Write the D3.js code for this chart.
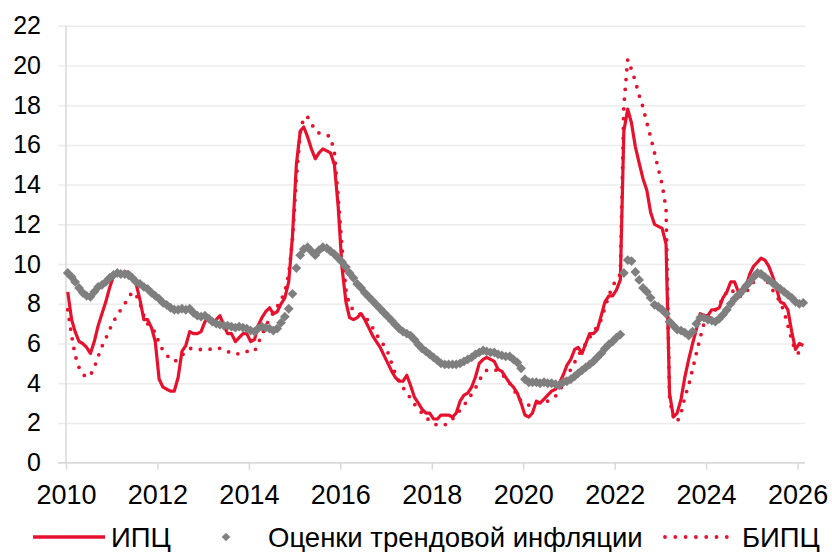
<!DOCTYPE html>
<html>
<head>
<meta charset="utf-8">
<script src="https://cdn.jsdelivr.net/npm/d3@7"></script>
<style>
  body { margin: 0; background: #fff; }
  svg { display: block; font-family: "Liberation Sans", Arial, sans-serif; }
</style>
</head>
<body>
<div class="chartContainer"></div>
<script>
// monthly data, Jan 2010 .. Feb 2026 (one row per year)
const firstMonth = new Date(2010, 0, 15);

const cpi = [
  8.6, 7.2, 6.6, 6.1, 6.0, 5.8, 5.5, 6.1, 6.9, 7.5, 8.1, 8.8,
  9.4, 9.5, 9.5, 9.6, 9.6, 9.4, 9.0, 8.2, 7.2, 7.2, 6.8, 6.1,
  4.2, 3.8, 3.7, 3.6, 3.6, 4.3, 5.6, 5.9, 6.6, 6.5, 6.5, 6.6,
  7.1, 7.3, 7.0, 7.2, 7.4, 6.9, 6.5, 6.5, 6.1, 6.3, 6.5, 6.5,
  6.1, 6.2, 6.9, 7.3, 7.6, 7.8, 7.5, 7.6, 8.0, 8.3, 9.1, 11.4,
  15.0, 16.7, 16.9, 16.4, 15.8, 15.3, 15.6, 15.8, 15.7, 15.6, 15.0, 12.9,
  9.8, 8.1, 7.3, 7.2, 7.3, 7.5, 7.2, 6.8, 6.4, 6.1, 5.8, 5.4,
  5.0, 4.6, 4.3, 4.1, 4.1, 4.4, 3.9, 3.3, 3.0, 2.7, 2.5, 2.5,
  2.2, 2.2, 2.4, 2.4, 2.4, 2.3, 2.5, 3.1, 3.4, 3.5, 3.8, 4.3,
  5.0, 5.2, 5.3, 5.2, 5.1, 4.7, 4.6, 4.3, 4.0, 3.8, 3.5, 3.0,
  2.4, 2.3, 2.5, 3.1, 3.0, 3.2, 3.4, 3.6, 3.7, 4.0, 4.4, 4.9,
  5.2, 5.7, 5.8, 5.5, 6.0, 6.5, 6.5, 6.7, 7.4, 8.1, 8.4, 8.4,
  8.7, 9.2, 16.7, 17.8, 17.1, 15.9, 15.1, 14.3, 13.7, 12.6, 12.0, 11.9,
  11.8, 11.0, 3.5, 2.3, 2.5, 3.2, 4.3, 5.2, 6.0, 6.7, 7.5, 7.4,
  7.4, 7.7, 7.7, 7.8, 8.3, 8.6, 9.1, 9.1, 8.6, 8.5, 8.9, 9.5,
  9.9, 10.1, 10.3, 10.2, 9.9, 9.4, 8.8, 8.1, 8.0, 7.7, 6.6, 5.7,
  6.0, 5.9
];

const coreCpi = [
  7.7, 6.4, 5.4, 4.8, 4.45, 4.3, 4.4, 4.8, 5.35, 5.85, 6.25, 6.7,
  7.1, 7.45, 7.7, 8.0, 8.3, 8.6, 8.45, 8.0, 7.4, 7.0, 6.7, 6.6,
  6.0, 5.65, 5.4, 5.25, 5.1, 5.2, 5.4, 5.6, 5.75, 5.75, 5.7, 5.7,
  5.7, 5.7, 5.75, 5.8, 5.75, 5.7, 5.6, 5.5, 5.45, 5.5, 5.6, 5.6,
  5.6, 5.6, 6.0, 6.45, 6.85, 7.25, 7.55, 7.85, 8.2, 8.6, 9.5, 11.2,
  14.3, 16.6, 17.4, 17.4, 17.1, 16.7, 16.6, 16.55, 16.5, 16.4, 15.6, 13.4,
  10.8, 8.7, 7.9, 7.7, 7.55, 7.45, 7.4, 7.1, 6.8, 6.45, 6.2, 5.9,
  5.55, 5.0, 4.5, 4.1, 3.8, 3.5, 3.25, 2.95, 2.7, 2.5, 2.3, 2.1,
  1.95, 1.9, 1.85, 1.9, 2.05, 2.2, 2.4, 2.65, 2.9, 3.15, 3.45, 3.75,
  4.15, 4.45, 4.65, 4.7, 4.7, 4.6, 4.45, 4.25, 4.0, 3.7, 3.4, 3.1,
  3.0, 2.9, 2.9, 3.0, 3.05, 3.05, 3.1, 3.2, 3.35, 3.6, 3.95, 4.3,
  4.7, 5.05, 5.4, 5.7, 6.0, 6.3, 6.6, 6.85, 7.2, 7.8, 8.4, 8.9,
  9.2, 9.5, 18.0, 20.3, 19.8, 19.2, 18.5, 17.9, 17.1, 16.4, 15.6, 14.8,
  14.0, 12.8, 3.2, 2.3, 2.05, 2.5, 3.3, 3.9, 4.7, 5.5, 6.3, 7.0,
  7.2, 7.5, 7.7, 7.95, 8.3, 8.6, 8.75, 8.55, 8.35, 8.4, 8.55, 8.85,
  9.1, 9.3, 9.4, 9.3, 9.0, 8.7, 8.4, 8.1, 7.6, 6.9, 6.2, 5.6,
  5.5, 5.2
];

const trend = [
  9.55, 9.35, 9.1, 8.8, 8.55, 8.4, 8.35, 8.6, 8.85, 8.95, 9.1, 9.3,
  9.45, 9.55, 9.5, 9.5, 9.45, 9.3, 9.1, 9.0, 8.85, 8.75, 8.55, 8.4,
  8.25, 8.05, 7.95, 7.8, 7.7, 7.7, 7.75, 7.7, 7.75, 7.55, 7.4, 7.35,
  7.4, 7.25, 7.1, 7.0, 6.95, 6.9, 6.9, 6.85, 6.8, 6.85, 6.8, 6.75,
  6.65, 6.6, 6.75, 6.85, 6.8, 6.75, 6.65, 6.75, 7.05, 7.35, 7.75, 8.5,
  9.8, 10.45, 10.75, 10.85, 10.65, 10.45, 10.7, 10.85, 10.8, 10.65, 10.5, 10.3,
  10.1, 9.85, 9.55, 9.3, 9.0, 8.8, 8.55, 8.35, 8.15, 7.95, 7.75, 7.55,
  7.35, 7.15, 6.95, 6.75, 6.6, 6.5, 6.4, 6.2, 5.95, 5.75, 5.6, 5.45,
  5.3, 5.15, 5.0, 4.95, 4.95, 4.95, 4.95, 5.0, 5.1, 5.2, 5.3, 5.45,
  5.55, 5.65, 5.6, 5.55, 5.55, 5.45, 5.4, 5.35, 5.35, 5.2, 5.05, 4.75,
  4.2, 4.05, 4.05, 4.05, 4.0, 4.05, 4.0, 4.0, 3.95, 3.9, 4.05, 4.1,
  4.2, 4.35, 4.5, 4.65, 4.8, 4.95, 5.1, 5.3, 5.5, 5.75, 5.95, 6.1,
  6.3, 6.45, 9.55, 10.2, 10.15, 9.6, 9.2, 8.8, 8.6, 8.3, 7.95, 7.85,
  7.7, 7.5, 7.1, 6.9, 6.7, 6.65, 6.55, 6.4, 6.6, 7.0, 7.3, 7.3,
  7.2, 7.15, 7.1, 7.25, 7.45, 7.7, 8.0, 8.25, 8.45, 8.65, 8.9, 9.1,
  9.35, 9.55, 9.5, 9.35, 9.2, 9.05, 8.9, 8.75, 8.6, 8.45, 8.3, 8.1,
  8.0, 8.05
];

const yearTicks = [2010, 2012, 2014, 2016, 2018, 2020, 2022, 2024, 2026];
const valueTicks = [0, 2, 4, 6, 8, 10, 12, 14, 16, 18, 20, 22];
const seriesNames = ["ИПЦ", "Оценки трендовой инфляции", "БИПЦ"];

const width = 832,
  height = 552;
const red = "#e8112d",
  grey = "#7f7f7f",
  axisColor = "#d9d9d9",
  gridColor = "#ececec";

const months = cpi.map((d, i) => d3.timeMonth.offset(firstMonth, i));

const svg = d3
  .select(".chartContainer")
  .append("svg")
  .attr("width", width)
  .attr("height", height);

const x = d3
  .scaleTime()
  .domain([new Date(2010, 0, 1), new Date(2026, 2, 1)])
  .range([66, 805]);

const y = d3.scaleLinear().domain([0, 22]).range([462.7, 25.7]);

// gridlines
svg
  .append("g")
  .attr("transform", "translate(58,0)")
  .call(d3.axisRight(y).tickValues(valueTicks).tickSize(805 - 58).tickFormat(""))
  .call((g) => g.select(".domain").remove())
  .call((g) => g.selectAll("line").attr("stroke", gridColor).attr("stroke-width", 1.5));

// y axis labels
svg
  .append("g")
  .attr("transform", "translate(66,0)")
  .call(d3.axisLeft(y).tickValues(valueTicks).tickSize(0).tickPadding(25))
  .call((g) => g.select(".domain").remove())
  .call((g) =>
    g
      .selectAll("text")
      .attr("font-size", 25)
      .attr("fill", "#000")
      .attr("font-family", '"Liberation Sans", Arial, sans-serif')
  );

// left axis line
svg
  .append("line")
  .attr("x1", 66)
  .attr("x2", 66)
  .attr("y1", y(22))
  .attr("y2", y(0))
  .attr("stroke", axisColor)
  .attr("stroke-width", 1.5);

// x axis
svg
  .append("line")
  .attr("x1", 58)
  .attr("x2", 805)
  .attr("y1", y(0))
  .attr("y2", y(0))
  .attr("stroke", axisColor)
  .attr("stroke-width", 1.5);

svg
  .append("g")
  .attr("transform", `translate(0,${y(0)})`)
  .call(
    d3
      .axisBottom(x)
      .tickValues(yearTicks.map((yr) => new Date(yr, 0, 1)))
      .tickFormat(d3.timeFormat("%Y"))
      .tickSize(7)
      .tickPadding(15)
  )
  .call((g) => g.select(".domain").remove())
  .call((g) => g.selectAll("line").attr("stroke", axisColor).attr("stroke-width", 1.5))
  .call((g) =>
    g
      .selectAll("text")
      .attr("font-size", 27)
      .attr("fill", "#000")
      .attr("font-family", '"Liberation Sans", Arial, sans-serif')
  );

const line = d3
  .line()
  .x((d, i) => x(months[i]))
  .y((d) => y(d));

// ИПЦ
svg
  .append("path")
  .datum(cpi)
  .attr("d", line)
  .attr("fill", "none")
  .attr("stroke", red)
  .attr("stroke-width", 3.2)
  .attr("stroke-linejoin", "round");

// БИПЦ
svg
  .append("path")
  .datum(coreCpi)
  .attr("d", line)
  .attr("fill", "none")
  .attr("stroke", red)
  .attr("stroke-width", 3.8)
  .attr("stroke-linecap", "round")
  .attr("stroke-dasharray", "0,9.8");

// trend estimates, diamond markers
const diamond = (r) => `M0,${-r}L${r},0L0,${r}L${-r},0Z`;

svg
  .append("g")
  .selectAll("path")
  .data(trend)
  .enter()
  .append("path")
  .attr("d", diamond(4.9))
  .attr("fill", grey)
  .attr("transform", (d, i) => `translate(${x(months[i])},${y(d)})`);

// legend
const legend = svg.append("g").attr("font-size", 27.5).attr("fill", "#000");
const legendY = 537;

legend
  .append("line")
  .attr("x1", 33)
  .attr("x2", 105)
  .attr("y1", legendY)
  .attr("y2", legendY)
  .attr("stroke", red)
  .attr("stroke-width", 3.5);
legend
  .append("text")
  .attr("x", 111)
  .attr("y", legendY + 10)
  .text(seriesNames[0]);

legend
  .append("path")
  .attr("d", diamond(4.3))
  .attr("fill", grey)
  .attr("transform", `translate(226,${legendY})`);
legend
  .append("text")
  .attr("x", 268)
  .attr("y", legendY + 10)
  .text(seriesNames[1]);

legend
  .append("line")
  .attr("x1", 665)
  .attr("x2", 727)
  .attr("y1", legendY)
  .attr("y2", legendY)
  .attr("stroke", red)
  .attr("stroke-width", 3.8)
  .attr("stroke-linecap", "round")
  .attr("stroke-dasharray", "0,10.3");
legend
  .append("text")
  .attr("x", 742)
  .attr("y", legendY + 10)
  .text(seriesNames[2]);
</script>
</body>
</html>
